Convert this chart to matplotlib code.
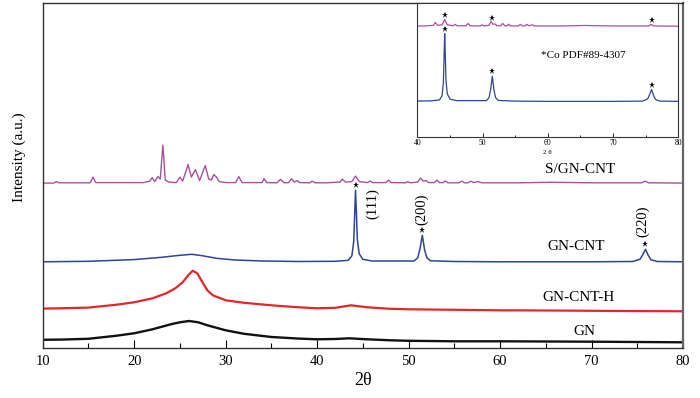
import numpy as np
import matplotlib
matplotlib.use('Agg')
import matplotlib.pyplot as plt
from matplotlib.transforms import offset_copy
from matplotlib.ticker import MultipleLocator

plt.rcParams['font.family'] = ['Liberation Serif', 'DejaVu Serif']
plt.rcParams['mathtext.fontset'] = 'stix'

# ---------------- data (2θ, relative intensity) ----------------
gn_x = [10, 12, 15, 18, 20, 22, 24, 25, 26, 27, 28, 30, 32, 35, 38, 40, 42, 43.5, 45,
        48, 50, 55, 60, 65, 70, 75, 80]
gn_y = [2.5, 2.7, 3.5, 6.5, 9, 13, 18, 20, 21.3, 20, 17, 12, 8.5, 5.3, 3.7, 3, 3.3, 4, 3.2,
        2, 1.5, 1, 1, 0.8, 0.6, 0.3, 0]

red_x = [10, 12, 15, 18, 20, 22, 23.5, 24.5, 25.3, 26, 26.4, 26.9, 27.4, 28, 28.6, 30, 32,
         35, 38, 40, 42, 43.7, 45.5, 48, 50, 55, 60, 65, 70, 75, 80]
red_y = [2.7, 3, 3.7, 6.5, 9, 13, 18, 23, 29, 37, 40.5, 38, 30, 21, 16, 11, 8.5,
         6, 4, 3, 3.5, 6, 4, 2.5, 2, 1.5, 1, 0.8, 0.5, 0.2, 0]

cnt_x = [10, 15, 20, 23, 25, 26.3, 27.5, 29, 31, 34, 38, 42,
         43.4, 43.8, 44.0, 44.1, 44.2, 44.3, 44.4, 44.6, 45.0, 46,
         50.6, 51.0, 51.25, 51.5, 51.75, 52.0, 52.4, 55, 60, 65, 70,
         74.5, 75.3, 75.6, 75.9, 76.2, 76.5, 77.2, 80]
cnt_y = [0, 0.5, 2.2, 4.5, 6.5, 7.5, 6, 3.5, 1.8, 0.8, 0.3, 0.5,
         1.5, 6, 20, 45, 71.5, 48, 22, 8, 2.5, 0.8,
         0.8, 4, 13, 26.5, 12, 4, 1, 0.3, 0, 0, 0,
         0.3, 2.5, 7, 12.5, 6.5, 2, 0.3, 0]

sg_x = [10, 11.2, 11.5, 11.8, 15.2, 15.5, 15.8, 21.0, 21.7, 21.98, 22.25, 22.6, 22.85,
        23.14, 23.4, 23.8, 24.6, 25.0, 25.3, 25.9, 26.25, 26.7, 27.15, 27.77, 28.15,
        28.45, 28.7, 29.0, 29.3, 30, 31.1, 31.44, 31.8, 34.0, 34.2, 34.5, 35.6, 36.0,
        36.4, 36.9, 37.2, 37.5, 37.8, 38.1, 39.2, 39.45, 39.8, 41, 42.5, 42.75, 43.1,
        43.8, 44.2, 44.6, 45.5, 45.8, 46.1, 47.5, 47.8, 48.1, 49.7, 49.9, 50.2, 51.0,
        51.3, 51.6, 51.9, 52.2, 52.8, 53.1, 53.4, 53.8, 54.0, 54.3, 55.5, 55.8, 56.1,
        56.5, 56.8, 57.1, 57.6, 58, 62, 65.7, 70, 75.5, 75.85, 76.2, 80]
sg_y = [0, 0, 1.5, 0.3, 0.3, 6, 0.5, 0.5, 2, 5.4, 1.5, 6.5, 4,
        38, 3, 1, 0.5, 6, 2, 18.5, 6, 13.5, 2.5, 17.5, 4,
        3, 8.5, 6, 1.5, 0.5, 0.5, 6.5, 0.5, 0.5, 4.5, 0.5, 0.3, 3.7,
        0.3, 0.5, 4.4, 1, 2.5, 0.5, 0.3, 2, 0.3, 0.3, 1, 4, 1,
        1.5, 7, 1.5, 0.5, 2, 0.5, 0.5, 3, 0.5, 0.3, 1.5, 0.3, 1,
        5, 2, 2.5, 0.5, 0.5, 3, 0.5, 0.5, 2.2, 0.3, 0.3, 2, 0.3,
        0.3, 2, 0.5, 1.5, 0.3, 0.3, 0.8, 0.3, 0.3, 2, 0.3, 0]

co_peaks = [44.2, 51.5, 75.9]
co_hkl = ['(111)', '(200)', '(220)']
sample_names = ['S/GN-CNT', 'GN-CNT', 'GN-CNT-H', 'GN']
inset_note = '*Co PDF#89-4307'

# ---------------- style / layout ----------------
c_gn, c_red, c_cnt, c_sg = '#111111', '#e3262b', '#2e4592', '#a8509e'
off_gn, off_red, off_cnt, off_sg = 6.0, 37.0, 86.5, 165.2
in_off_cnt, in_off_sg, in_scale = 35.4, 110.7, 0.95

fig = plt.figure(figsize=(7.0, 3.98), dpi=100)
ax = fig.add_axes([0.061, 0.1249, 0.9147, 0.8668])

ax.plot(gn_x, np.array(gn_y) + off_gn, color=c_gn, lw=1.7)
ax.plot(red_x, np.array(red_y) + off_red, color=c_red, lw=1.6)
ax.plot(cnt_x, np.array(cnt_y) + off_cnt, color=c_cnt, lw=1.1)
ax.plot(sg_x, np.array(sg_y) + off_sg, color=c_sg, lw=1.0)

ax.set_xlim(10, 80)
ax.set_ylim(0, 345)
ax.set_yticks([])
ax.xaxis.set_major_locator(MultipleLocator(10))
ax.xaxis.set_minor_locator(MultipleLocator(5))
ax.tick_params(axis='x', which='major', direction='in', length=6, width=0.8,
               labelsize=10.5, pad=5)
ax.tick_params(axis='x', which='minor', direction='in', length=3.5, width=0.8)
for s in ax.spines.values():
    s.set_linewidth(1.0)
    s.set_color('#333333')
ax.spines['right'].set_linewidth(1.6)
ax.spines['right'].set_color('#666666')

ax.set_xlabel('2θ', fontsize=13, labelpad=3)
fig.text(19 / 700, 1 - 157.5 / 398, 'Intensity (a.u.)', rotation=90,
         ha='center', va='center', fontsize=11)

# stars and hkl labels on GN-CNT peaks
star_tr = offset_copy(ax.transData, fig=fig, y=5, units='dots')
peak_tops = np.interp(co_peaks, cnt_x, cnt_y) + off_cnt
ax.plot(co_peaks, peak_tops, ls='none', marker='*', ms=4.5, color='k', mew=0,
        transform=star_tr)
hkl_pos = [(46.1, 144.3), (51.4, 139.3), (75.6, 126.6)]
for lab, (hx, hy) in zip(co_hkl, hkl_pos):
    ax.text(hx, hy, lab, rotation=90, ha='center', va='center', fontsize=10.5)

name_pos = [(68.7, 178.8), (68.3, 101.6), (68.6, 50.6), (69.2, 16.6)]
for lab, (nx, ny) in zip(sample_names, name_pos):
    ax.text(nx, ny, lab, ha='center', va='center', fontsize=11)

# ---------------- inset ----------------
ax2 = fig.add_axes([0.5961, 0.6565, 0.3729, 0.336])
ax2.plot(cnt_x, np.array(cnt_y) * in_scale + in_off_cnt, color=c_cnt, lw=0.9)
ax2.plot(sg_x, np.array(sg_y) * in_scale + in_off_sg, color=c_sg, lw=0.9)
ax2.set_xlim(40, 80)
ax2.set_ylim(0, 134)
ax2.set_yticks([])
ax2.xaxis.set_major_locator(MultipleLocator(10))
ax2.xaxis.set_minor_locator(MultipleLocator(5))
ax2.tick_params(axis='x', which='major', direction='in', length=3, width=0.6,
                labelsize=5.5, pad=2)
ax2.tick_params(axis='x', which='minor', direction='in', length=1.5, width=0.6)
for s in ax2.spines.values():
    s.set_linewidth(0.8)
    s.set_color('#333333')
ax2.set_xlabel('2 θ', fontsize=5, labelpad=2)

star_tr2 = offset_copy(ax2.transData, fig=fig, y=5, units='dots')
ax2.plot(co_peaks, np.interp(co_peaks, cnt_x, cnt_y) * in_scale + in_off_cnt,
         ls='none', marker='*', ms=4.5, mew=0, color='k', transform=star_tr2)
ax2.plot(co_peaks, np.interp(co_peaks, sg_x, sg_y) * in_scale + in_off_sg,
         ls='none', marker='*', ms=4.5, mew=0, color='k', transform=star_tr2)
ax2.text(65.4, 81.7, inset_note, ha='center', va='center', fontsize=8)

fig.savefig('out.png', dpi=100)
